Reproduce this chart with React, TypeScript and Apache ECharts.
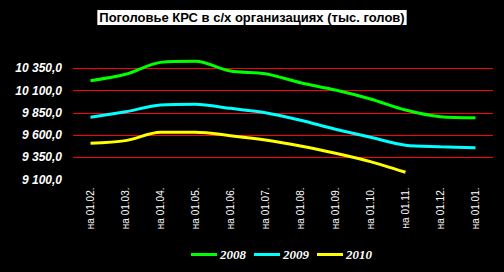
import React, { useEffect, useRef } from "react";
import * as echarts from "echarts";

const categories = ["на 01.02.", "на 01.03.", "на 01.04.", "на 01.05.", "на 01.06.", "на 01.07.", "на 01.08.", "на 01.09.", "на 01.10.", "на 01.11.", "на 01.12.", "на 01.01."];
const series2008 = [10211, 10283, 10417, 10429, 10320, 10290, 10188, 10106, 10005, 9881, 9806, 9795];
const series2009 = [9799, 9862, 9937, 9945, 9900, 9851, 9766, 9665, 9575, 9485, 9469, 9458];
const series2010 = [9507, 9537, 9631, 9631, 9593, 9544, 9477, 9395, 9301, 9181];
const yMin = 9100;
const yMax = 10500;
const yStep = 250;

function fmt(v: number): string {
  const s = Math.round(v).toString();
  const withSpace = s.replace(/\B(?=(\d{3})+(?!\d))/g, " ");
  return withSpace + ",0";
}

export default function App() {
  const ref = useRef<HTMLDivElement>(null);
  useEffect(() => {
    if (!ref.current) return;
    const chart = echarts.init(ref.current, null, { renderer: "svg" });
    chart.setOption({
      animation: false,
      backgroundColor: "#000000",
      title: {
        text: "Поголовье КРС в с/х организациях (тыс. голов)",
        left: "center",
        top: 10,
        padding: [1, 2],
        backgroundColor: "#ffffff",
        textStyle: { color: "#000000", fontFamily: "Liberation Sans", fontWeight: "bold", fontSize: 13 },
      },
      legend: {
        left: 186,
        top: 243,
        icon: "rect",
        itemWidth: 26,
        itemHeight: 3,
        itemGap: 8,
        textStyle: { color: "#ffffff", fontFamily: "Liberation Serif", fontWeight: "bold", fontStyle: "italic", fontSize: 13, padding: [0, 0, 0, -2] },
        data: ["2008", "2009", "2010"],
      },
      grid: { left: 73, right: 11, top: 55, bottom: 92.5 },
      xAxis: {
        type: "category",
        data: categories,
        boundaryGap: true,
        axisLine: { show: false },
        axisTick: { show: false },
        axisLabel: { rotate: 90, color: "#ffffff", fontFamily: "Liberation Sans", fontSize: 10, margin: 8 },
      },
      yAxis: {
        type: "value",
        min: yMin,
        max: yMax,
        interval: yStep,
        axisLine: { show: false },
        axisTick: { show: false },
        axisLabel: {
          color: "#ffffff",
          fontFamily: "Liberation Sans",
          fontWeight: "bold",
          fontStyle: "italic",
          fontSize: 12,
          margin: 11,
          formatter: (v: number) => ((v - yMin) % yStep === 0 ? fmt(v) : ""),
        },
        splitLine: {
          show: true,
          lineStyle: {
            width: 1,
            color: ["rgba(0,0,0,0)", "#ff0000", "#ff0000", "#ff0000", "#ff0000", "#ff0000", "rgba(0,0,0,0)"],
          },
        },
      },
      series: [
        { name: "2008", type: "line", data: series2008, smooth: 0.3, symbol: "none", lineStyle: { color: "#00ff00", width: 3 }, itemStyle: { color: "#00ff00" } },
        { name: "2009", type: "line", data: series2009, smooth: 0.3, symbol: "none", lineStyle: { color: "#00ffff", width: 3 }, itemStyle: { color: "#00ffff" } },
        { name: "2010", type: "line", data: series2010, smooth: 0.3, symbol: "none", lineStyle: { color: "#ffff00", width: 3 }, itemStyle: { color: "#ffff00" } },
      ],
    });
    return () => chart.dispose();
  }, []);
  return <div ref={ref} style={{ position: "fixed", left: 0, top: 0, width: 504, height: 272 }} />;
}
